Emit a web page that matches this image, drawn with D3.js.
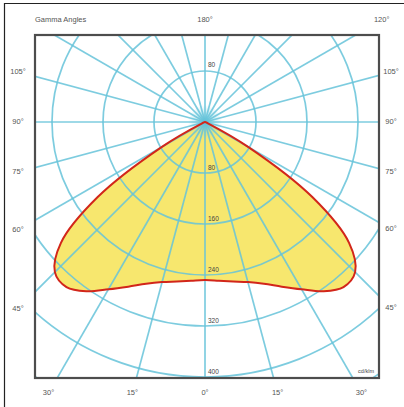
<!DOCTYPE html>
<html><head><meta charset="utf-8">
<script src="https://cdn.jsdelivr.net/npm/d3@7"></script>
<style>body{margin:0;background:#fff}svg{display:block}text{font-family:"Liberation Sans",Arial,sans-serif}</style>
</head><body>
<script>
// Data
const gammaAngles = [0,5,10,15,20,25,30,35,40,45,50,55,60,65,70,75,80,85,90];
const intensity   = [248,250,254,260,270,285,303,324,338,333,295,206,78,5,0,0,0,0,0];
const ringValues  = [80,160,240,320,400,480];
const ringLabelsBelow = ["80","160","240","320","400"];
const ringLabelAbove = "80";
const leftRightAngles = [105,90,75,60,45];
const bottomAngles = [-30,-15,0,15,30];
const topAngles = [180,120];
const unitLabel = "cd/klm";
const titleLabel = "Gamma Angles";

const W=404,H=407;
const cx=205, cy=122;
const fx0=35, fy0=35, fx1=379, fy1=378;
const r = d3.scaleLinear().domain([0,400]).range([0,255]);

const svg=d3.select("body").append("svg").attr("width",W).attr("height",H);
svg.append("rect").attr("x",0).attr("y",0).attr("width",W).attr("height",H).attr("fill","#fff");
// outer border (cropped)
svg.append("path").attr("d",`M4.5,${H}V3.5H${W}`).attr("fill","none").attr("stroke","#222").attr("stroke-width",1.2);

const defs=svg.append("defs");
defs.append("clipPath").attr("id","clip").append("rect")
  .attr("x",fx0).attr("y",fy0).attr("width",fx1-fx0).attr("height",fy1-fy0);
const grad=defs.append("radialGradient").attr("id","glow");
grad.append("stop").attr("offset","0%").attr("stop-color","#7fd3e3").attr("stop-opacity",0.9);
grad.append("stop").attr("offset","100%").attr("stop-color","#7fd3e3").attr("stop-opacity",0);

const g=svg.append("g").attr("clip-path","url(#clip)");
const c=g.append("g").attr("transform",`translate(${cx},${cy})`);

// curve points (symmetric distribution)
const pts=[];
gammaAngles.forEach((a,i)=>{ if(intensity[i]>0) pts.push([a,intensity[i]]); });
const seqFull=[[0,0]];
pts.slice().reverse().forEach(p=>seqFull.push([-p[0],p[1]]));
pts.slice(1).forEach(p=>seqFull.push([p[0],p[1]]));

const line=d3.lineRadial()
  .angle(d=>Math.PI-d[0]*Math.PI/180)
  .radius(d=>r(d[1]))
  .curve(d3.curveCatmullRomClosed.alpha(0.5));

c.append("path").attr("d",line(seqFull)).attr("fill","#f7e76e").attr("stroke","none");

// glow at center
c.append("circle").attr("r",17).attr("fill","url(#glow)");

// grid
const gridColor="#66c3d9";
ringValues.forEach(v=>{
  c.append("circle").attr("r",r(v)).attr("fill","none").attr("stroke",gridColor).attr("stroke-width",1.7).attr("stroke-opacity",0.85);
});
d3.range(0,360,15).forEach(a=>{
  const t=a*Math.PI/180;
  c.append("line").attr("x1",0).attr("y1",0).attr("x2",600*Math.sin(t)).attr("y2",600*Math.cos(t))
   .attr("stroke",gridColor).attr("stroke-width",1.7).attr("stroke-opacity",0.85);
});

// outline
c.append("path").attr("d",line(seqFull)).attr("fill","none").attr("stroke","#d2261a").attr("stroke-width",2);

// ring labels
ringLabelsBelow.forEach((t,i)=>{
  c.append("text").attr("x",3).attr("y",r(ringValues[i])-3).text(t).attr("font-size","6.5px").attr("fill","#444");
});
c.append("text").attr("x",3).attr("y",-r(ringValues[0])-4).text(ringLabelAbove).attr("font-size","6.5px").attr("fill","#444");

// frame
svg.append("rect").attr("x",fx0).attr("y",fy0).attr("width",fx1-fx0).attr("height",fy1-fy0)
  .attr("fill","none").attr("stroke","#4d4d4d").attr("stroke-width",2.2);

// angle labels
const lblFont="7.5px", lblCol="#555";
function addLabel(x,y,t,anchor){
  svg.append("text").attr("x",x).attr("y",y).attr("text-anchor",anchor||"middle").attr("dominant-baseline","middle")
    .attr("font-size",lblFont).attr("fill",lblCol).text(t);
}
const lx=18, rx=391, by=393, ty=20;
leftRightAngles.forEach(a=>{
  const t=(90-a)*Math.PI/180;
  addLabel(lx, cy+(cx-lx)*Math.tan(t), a+"°");
  addLabel(rx, cy+(rx-cx)*Math.tan(t), a+"°");
});
bottomAngles.forEach(a=>{
  const x=cx+(by-cy)*Math.tan(a*Math.PI/180);
  addLabel(x, by, Math.abs(a)+"°");
});
topAngles.forEach(a=>{
  const t=(180-a)*Math.PI/180;
  addLabel(cx+(cy-ty)*Math.tan(t), ty, a+"°");
});
addLabel(35, ty, titleLabel, "start");
svg.append("text").attr("x",374).attr("y",373).attr("text-anchor","end").attr("font-size","5.5px").attr("fill","#444").text(unitLabel);
</script>
</body></html>
